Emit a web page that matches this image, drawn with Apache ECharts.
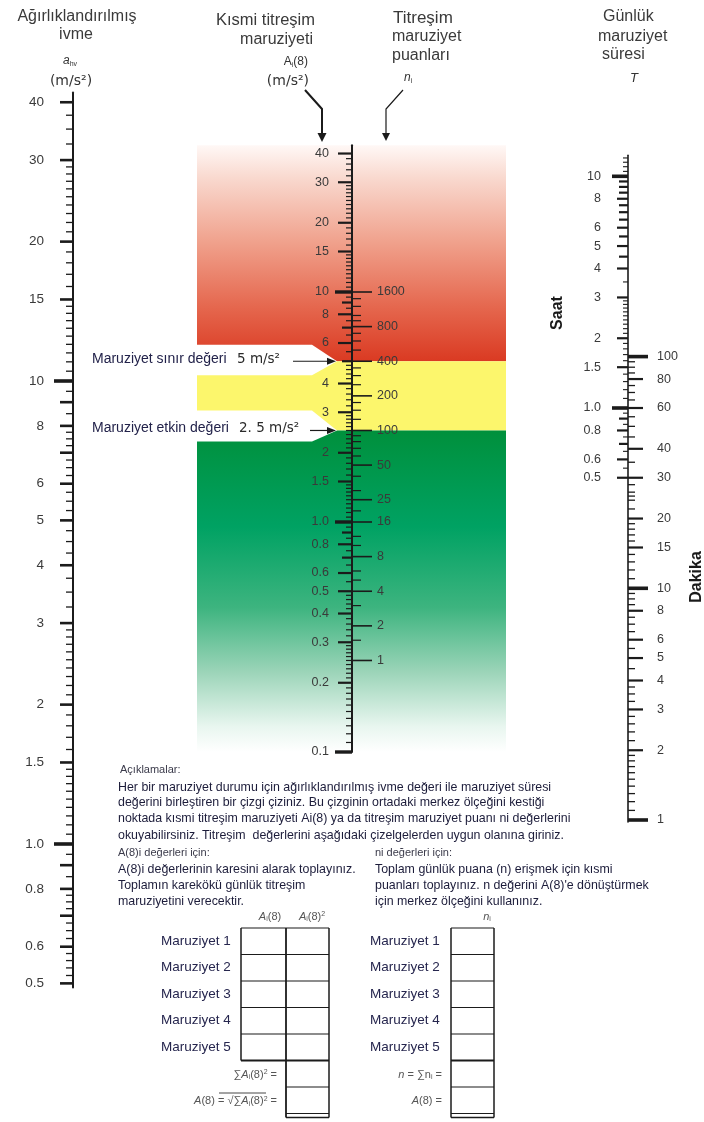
<!DOCTYPE html>
<html>
<head>
<meta charset="utf-8">
<script src="https://cdn.jsdelivr.net/npm/echarts@6/dist/echarts.min.js"></script>
<style>
  html, body { margin: 0; padding: 0; background: #fff; }
  #nomogram { width: 704px; height: 1122px; }
</style>
</head>
<body>
<div id="nomogram"></div>
<script>
// ---------- scale values ----------
// weighted acceleration a_hv (m/s²), left scale
const accelLabelValues = [40, 30, 20, 15, 10, 8, 6, 5, 4, 3, 2, 1.5, 1.0, 0.8, 0.6, 0.5];
const accelLabelText = ['40', '30', '20', '15', '10', '8', '6', '5', '4', '3', '2', '1.5', '1.0', '0.8', '0.6', '0.5'];
const accelLongTicks = [10, 1.0];
const accelMidTicks = [9, 7, 0.9, 0.7];
const accelMinorTicks = [37.5, 35, 32.5, 29, 28, 27, 26, 25, 24, 23, 22, 21, 19, 18, 17, 16,
  14.5, 14, 13.5, 13, 12.5, 12, 11.5, 11, 10.5, 9.5, 8.5, 7.75, 7.5, 7.25, 6.75, 6.5, 6.25,
  5.75, 5.5, 5.25, 4.75, 4.5, 4.25, 3.75, 3.5, 3.25, 2.9, 2.8, 2.7, 2.6, 2.5, 2.4, 2.3, 2.2, 2.1,
  1.9, 1.8, 1.7, 1.6, 1.45, 1.4, 1.35, 1.3, 1.25, 1.2, 1.15, 1.1, 1.05, 0.95, 0.85,
  0.775, 0.75, 0.725, 0.675, 0.65, 0.625, 0.58, 0.56, 0.54, 0.52];

// partial vibration exposure A_i(8) (m/s²), centre scale, left side
const a8LabelValues = [40, 30, 20, 15, 10, 8, 6, 4, 3, 2, 1.5, 1.0, 0.8, 0.6, 0.5, 0.4, 0.3, 0.2, 0.1];
const a8LabelText = ['40', '30', '20', '15', '10', '8', '6', '4', '3', '2', '1.5', '1.0', '0.8', '0.6', '0.5', '0.4', '0.3', '0.2', '0.1'];
const a8LongTicks = [10, 1.0, 0.1];
const a8MidTicks = [9, 7, 5, 0.9, 0.7];
const a8MinorTicks = [38, 36, 34, 32, 29, 28, 27, 26, 25, 24, 23, 22, 21, 19, 18, 17, 16,
  14.5, 14, 13.5, 13, 12.5, 12, 11.5, 11, 10.5, 9.5, 8.5, 7.5, 6.5, 5.5, 4.8, 4.6, 4.4, 4.2,
  3.8, 3.6, 3.4, 3.2, 2.9, 2.8, 2.7, 2.6, 2.5, 2.4, 2.3, 2.2, 2.1, 1.9, 1.8, 1.7, 1.6,
  1.45, 1.4, 1.35, 1.3, 1.25, 1.2, 1.15, 1.1, 1.05, 0.95, 0.85, 0.75, 0.65, 0.55,
  0.48, 0.46, 0.44, 0.42, 0.38, 0.36, 0.34, 0.32, 0.29, 0.28, 0.27, 0.26, 0.25, 0.24, 0.23, 0.22, 0.21,
  0.19, 0.18, 0.17, 0.16, 0.15, 0.14, 0.13, 0.12, 0.11];

// exposure points n_i, centre scale, right side
const pointLabelValues = [1600, 800, 400, 200, 100, 50, 25, 16, 8, 4, 2, 1];
const pointLabelText = ['1600', '800', '400', '200', '100', '50', '25', '16', '8', '4', '2', '1'];
const pointMinorTicks = [1400, 1200, 1000, 900, 700, 600, 500, 350, 300, 250, 175, 150, 125,
  90, 80, 70, 60, 40, 30, 20, 12, 10, 6, 5, 3, 1.5];

// daily exposure duration T, right scale: hours (left side) and minutes (right side)
const hourLabelValues = [10, 8, 6, 5, 4, 3, 2, 1.5, 1.0, 0.8, 0.6, 0.5];
const hourLabelText = ['10', '8', '6', '5', '4', '3', '2', '1.5', '1.0', '0.8', '0.6', '0.5'];
const hourLongTicks = [10, 1.0];
const hourMidTicks = [9.5, 9, 8.5, 7.5, 7, 6.5, 5.5, 4.5, 0.9, 0.7];
const hourMinorTicks = [12, 11.5, 11, 10.5, 3.5, 2.9, 2.8, 2.7, 2.6, 2.5, 2.4, 2.3, 2.2, 2.1,
  1.9, 1.8, 1.7, 1.6, 1.4, 1.3, 1.2, 1.1, 0.95, 0.85, 0.75, 0.65, 0.55];
const minuteLabelValues = [100, 80, 60, 40, 30, 20, 15, 10, 8, 6, 5, 4, 3, 2, 1];
const minuteLabelText = ['100', '80', '60', '40', '30', '20', '15', '10', '8', '6', '5', '4', '3', '2', '1'];
const minuteLongTicks = [100, 10, 1];
const minuteMinorTicks = [95, 90, 85, 75, 70, 65, 55, 50, 45, 35, 28, 26, 25, 24, 22, 19, 18, 17, 16,
  14, 13, 12, 11, 9.5, 9, 8.5, 7.5, 7, 6.5, 5.5, 4.5, 3.75, 3.5, 3.25, 2.8, 2.6, 2.4, 2.2,
  1.9, 1.8, 1.7, 1.6, 1.5, 1.4, 1.3, 1.2, 1.1];

// exposure limit and action values on the A(8) scale
const thresholdValues = [5, 2.5];
const thresholdNames = ['Maruziyet sınır değeri', 'Maruziyet etkin değeri'];
const thresholdText = ['5 m/s²', '2. 5 m/s²'];

const exposureRows = ['Maruziyet 1', 'Maruziyet 2', 'Maruziyet 3', 'Maruziyet 4', 'Maruziyet 5'];

// ---------- drawing helpers ----------
const FONT = '"Liberation Sans", Arial, Helvetica, sans-serif';
const WIDE = '"DejaVu Sans", "Liberation Sans", sans-serif';
const INK = '#1b1b1b';
const NUM = '#3a3a3a';

// points A(8) <-> n : n = 16 * A(8)^2
const pointsToA8 = n => Math.sqrt(n) / 4;

function scaleGrid(x, refVal, refY, pxPerDecade, min, max) {
  const top = refY - pxPerDecade * Math.log10(max / refVal);
  const bottom = refY + pxPerDecade * Math.log10(refVal / min);
  return { left: x, top: top, width: 20, height: bottom - top };
}

const scales = [
  { grid: scaleGrid(73, 10, 381, 463, 0.49, 42), min: 0.49, max: 42, lw: 2 },
  { grid: scaleGrid(352, 10, 292, 230, 0.1, 43.5), min: 0.1, max: 43.5, lw: 2 },
  { grid: scaleGrid(628, 60, 408, 231.7, 0.98, 740), min: 0.98, max: 740, lw: 1.6 }
];

// len > 0 draws to the left of the axis, len < 0 to the right
function tickSeries(axis, values, len, width, z) {
  return {
    type: 'custom', xAxisIndex: axis, yAxisIndex: axis, silent: true, clip: false, z: z || 6,
    data: values.map(v => [0, v]),
    renderItem(params, api) {
      const p = api.coord([0, api.value(1)]);
      return {
        type: 'line',
        shape: { x1: p[0] - len, y1: p[1], x2: p[0], y2: p[1] },
        style: { stroke: INK, lineWidth: width }
      };
    }
  };
}

function labelSeries(axis, values, texts, dx, align, size) {
  return {
    type: 'custom', xAxisIndex: axis, yAxisIndex: axis, silent: true, clip: false, z: 6,
    data: values.map(v => [0, v]),
    renderItem(params, api) {
      const p = api.coord([0, api.value(1)]);
      return {
        type: 'text', x: p[0] + dx, y: p[1],
        style: {
          text: texts[params.dataIndex], align: align, verticalAlign: 'middle',
          fontFamily: FONT, fontSize: size, fill: NUM
        }
      };
    }
  };
}

// coloured zones behind the centre scale: red above the limit, yellow between, green below
const bandSeries = {
  type: 'custom', xAxisIndex: 1, yAxisIndex: 1, silent: true, clip: false, z: 1,
  data: [[0, scales[1].max]],
  renderItem(params, api) {
    const top = api.coord([0, scales[1].max]);
    const ax = top[0];
    const yTop = top[1];
    const yLim = api.coord([0, thresholdValues[0]])[1];
    const yAct = api.coord([0, thresholdValues[1]])[1];
    const yBot = api.coord([0, scales[1].min])[1];
    const L = ax - 155, R = ax + 154;
    const notch = (y, up, down) => ({
      type: 'polygon',
      shape: { points: [[L, y - up], [ax - 40, y - up], [ax - 15, y], [ax - 40, y + down], [L, y + down]] },
      style: { fill: '#ffffff' }
    });
    return {
      type: 'group',
      children: [
        {
          type: 'rect', shape: { x: L, y: yTop, width: R - L, height: yLim - yTop },
          style: {
            fill: new echarts.graphic.LinearGradient(0, 0, 0, 1, [
              { offset: 0, color: '#fff8f6' },
              { offset: 0.15, color: '#f9d9cf' },
              { offset: 0.45, color: '#f0a18c' },
              { offset: 0.75, color: '#e5674e' },
              { offset: 1, color: '#da3a22' }
            ])
          }
        },
        {
          type: 'rect', shape: { x: L, y: yLim, width: R - L, height: yAct - yLim },
          style: { fill: '#fcf66c' }
        },
        {
          type: 'rect', shape: { x: L, y: yAct, width: R - L, height: yBot - yAct },
          style: {
            fill: new echarts.graphic.LinearGradient(0, 0, 0, 1, [
              { offset: 0, color: '#00903c' },
              { offset: 0.3, color: '#00a263' },
              { offset: 0.55, color: '#3db47f' },
              { offset: 0.75, color: '#9bd4b8' },
              { offset: 0.92, color: '#e8f6ef' },
              { offset: 1, color: '#ffffff' }
            ])
          }
        },
        notch(yLim, 16.5, 14),
        notch(yAct, 20, 11)
      ]
    };
  }
};

const valueTextX = [237, 239];
const arrowStartX = [293, 310];
const thresholdSeries = {
  type: 'custom', xAxisIndex: 1, yAxisIndex: 1, silent: true, clip: false, z: 7,
  data: thresholdValues.map(v => [0, v]),
  renderItem(params, api) {
    const i = params.dataIndex;
    const p = api.coord([0, api.value(1)]);
    const ax = p[0], y = p[1];
    return {
      type: 'group',
      children: [
        { type: 'text', x: ax - 260, y: y - 2,
          style: { text: thresholdNames[i], fontFamily: FONT, fontSize: 14, fill: '#22224a', verticalAlign: 'middle' } },
        { type: 'text', x: valueTextX[i], y: y - 2,
          style: { text: thresholdText[i], fontFamily: WIDE, fontSize: 13.5, fill: '#2a2a2a', verticalAlign: 'middle' } },
        { type: 'line', shape: { x1: arrowStartX[i], y1: y, x2: ax - 22, y2: y },
          style: { stroke: INK, lineWidth: 1.2 } },
        { type: 'polygon', shape: { points: [[ax - 16, y], [ax - 25, y - 3.5], [ax - 25, y + 3.5]] },
          style: { fill: INK } }
      ]
    };
  }
};

// ---------- static texts, arrows and tables ----------
function txt(x, y, text, extra) {
  return {
    type: 'text', x: x, y: y, silent: true,
    style: Object.assign({ text: text, fontFamily: FONT, fontSize: 12, fill: '#333', align: 'left', verticalAlign: 'middle' }, extra || {})
  };
}
function seg(x1, y1, x2, y2, w) {
  return { type: 'line', silent: true, shape: { x1, y1, x2, y2 }, style: { stroke: INK, lineWidth: w || 1 } };
}
const richSub = {
  n: { fontFamily: FONT, fontSize: 12, fill: '#333' },
  it: { fontFamily: FONT, fontSize: 12, fill: '#333', fontStyle: 'italic' },
  s: { fontFamily: FONT, fontSize: 7, fill: '#333', verticalAlign: 'bottom', padding: [6, 0, 0, 0] }
};

const HEAD = { fontSize: 16, fill: '#3a3a3a' };
const UNIT = { fontFamily: WIDE, fontSize: 14, fill: '#333' };
const elements = [
  // left scale heading
  txt(77, 17, 'Ağırlıklandırılmış', Object.assign({ align: 'center' }, HEAD)),
  txt(76, 35, 'ivme', Object.assign({ align: 'center' }, HEAD)),
  txt(70, 61, '{it|a}{s|hv}', { align: 'center', rich: richSub }),
  txt(71, 81, '(m/s²)', Object.assign({ align: 'center' }, UNIT)),
  // centre scale headings
  txt(315, 20, 'Kısmi titreşim', Object.assign({ align: 'right', fontSize: 16.5 }, { fill: HEAD.fill })),
  txt(313, 40, 'maruziyeti', Object.assign({ align: 'right' }, HEAD)),
  txt(308, 62, '{n|A}{s|i}{n|(8)}', { align: 'right', rich: richSub }),
  txt(309, 81, '(m/s²)', Object.assign({ align: 'right' }, UNIT)),
  txt(393, 18, 'Titreşim', Object.assign({}, HEAD, { fontSize: 17 })),
  txt(392, 37, 'maruziyet', HEAD),
  txt(392, 56, 'puanları', HEAD),
  txt(404, 78, '{it|n}{s|i}', { rich: richSub }),
  // right scale heading
  txt(603, 17, 'Günlük', HEAD),
  txt(598, 37, 'maruziyet', HEAD),
  txt(602, 55, 'süresi', HEAD),
  txt(630, 78, 'T', { fontStyle: 'italic', fontSize: 13, fill: '#333' }),
  // unit names beside the time scale
  { type: 'text', x: 558, y: 313, rotation: Math.PI / 2, silent: true,
    style: { text: 'Saat', fontFamily: FONT, fontSize: 16, fontWeight: 'bold', fill: '#1a1a1a', align: 'center', verticalAlign: 'middle' } },
  { type: 'text', x: 697, y: 577, rotation: Math.PI / 2, silent: true,
    style: { text: 'Dakika', fontFamily: FONT, fontSize: 16, fontWeight: 'bold', fill: '#1a1a1a', align: 'center', verticalAlign: 'middle' } },
  // arrows pointing at the centre scale
  { type: 'polyline', silent: true, shape: { points: [[305, 90], [322, 109], [322, 135]] }, style: { stroke: INK, lineWidth: 2, fill: null } },
  { type: 'polygon', silent: true, shape: { points: [[317.5, 133], [326.5, 133], [322, 142]] }, style: { fill: INK } },
  { type: 'polyline', silent: true, shape: { points: [[403, 90], [386, 109], [386, 135]] }, style: { stroke: INK, lineWidth: 1.2, fill: null } },
  { type: 'polygon', silent: true, shape: { points: [[382, 133], [390, 133], [386, 141]] }, style: { fill: INK } }
];

// explanation text: headings in a lighter style, body lines darker
const NOTE_HEAD = { fontSize: 11, fill: '#3a3a4a' };
const NOTE = { fontSize: 12.4, fill: '#1c1c3a' };
const noteHeads = [
  [120, 770, 'Açıklamalar:'],
  [118, 853, 'A(8)i değerleri için:'],
  [375, 853, 'ni değerleri için:']
];
const noteLines = [
  [118, 788, 'Her bir maruziyet durumu için ağırlıklandırılmış ivme değeri ile maruziyet süresi'],
  [118, 803, 'değerini birleştiren bir çizgi çiziniz. Bu çizginin ortadaki merkez ölçeğini kestiği'],
  [118, 819, 'noktada kısmi titreşim maruziyeti Ai(8) ya da titreşim maruziyet puanı ni değerlerini'],
  [118, 836, 'okuyabilirsiniz. Titreşim  değerlerini aşağıdaki çizelgelerden uygun olanına giriniz.'],
  [118, 870, 'A(8)i değerlerinin karesini alarak toplayınız.'],
  [118, 886, 'Toplamın karekökü günlük titreşim'],
  [118, 902, 'maruziyetini verecektir.'],
  [375, 870, 'Toplam günlük puana (n) erişmek için kısmi'],
  [375, 886, 'puanları toplayınız. n değerini A(8)\'e dönüştürmek'],
  [375, 902, 'için merkez ölçeğini kullanınız.']
];
noteHeads.forEach(l => elements.push(txt(l[0], l[1], l[2], NOTE_HEAD)));
noteLines.forEach(l => elements.push(txt(l[0], l[1], l[2], NOTE)));

// worksheet tables
const rowTop = 928, rowH = 26.5;
const rowY = k => rowTop + k * rowH;
const tableRich = {
  n: { fontFamily: FONT, fontSize: 11, fill: '#555' },
  it: { fontFamily: FONT, fontSize: 11, fill: '#555', fontStyle: 'italic' },
  s: { fontFamily: FONT, fontSize: 7, fill: '#555', verticalAlign: 'bottom', padding: [5, 0, 0, 0] },
  sp: { fontFamily: FONT, fontSize: 7, fill: '#555', verticalAlign: 'top', padding: [0, 0, 5, 0] }
};
const ROWLBL = { fontSize: 13.5, fill: '#26264e' };
exposureRows.forEach((name, k) => {
  elements.push(txt(161, rowY(k) + rowH / 2, name, ROWLBL));
  elements.push(txt(370, rowY(k) + rowH / 2, name, ROWLBL));
});
elements.push(txt(270, 917, '{it|A}{s|i}{n|(8)}', { align: 'center', rich: tableRich }));
elements.push(txt(312, 917, '{it|A}{s|i}{n|(8)}{sp|2}', { align: 'center', rich: tableRich }));
elements.push(txt(487, 917, '{it|n}{s|i}', { align: 'center', rich: tableRich }));
elements.push(txt(277, rowY(5) + rowH / 2 + 1, '{n|∑}{it|A}{s|i}{n|(8)}{sp|2}{n| =}', { align: 'right', rich: tableRich }));
elements.push(txt(277, rowY(6) + rowH / 2 + 1, '{it|A}{n|(8) = √∑}{it|A}{s|i}{n|(8)}{sp|2}{n| =}', { align: 'right', rich: tableRich }));
elements.push(seg(219, rowY(6) + 6, 266, rowY(6) + 6, 0.8));
elements.push(txt(442, rowY(5) + rowH / 2 + 1, '{it|n}{n| = ∑n}{s|i}{n| =}', { align: 'right', rich: tableRich }));
elements.push(txt(442, rowY(6) + rowH / 2 + 1, '{it|A}{n|(8) =}', { align: 'right', rich: tableRich }));

// left table: two columns for five rows, second column continues for the totals
for (let k = 0; k <= 5; k++) elements.push(seg(241, rowY(k), 329, rowY(k), k === 5 ? 2 : 1.2));
elements.push(seg(286, rowY(6), 329, rowY(6), 1.2));
elements.push(seg(286, rowY(7), 329, rowY(7), 1.2));
elements.push(seg(286, rowY(7) + 4, 329, rowY(7) + 4, 1.5));
elements.push(seg(241, rowY(0), 241, rowY(5), 1.5));
elements.push(seg(286, rowY(0), 286, rowY(7) + 4, 1.8));
elements.push(seg(329, rowY(0), 329, rowY(7) + 4, 1.5));
// right table: one column
for (let k = 0; k <= 7; k++) elements.push(seg(451, rowY(k), 494, rowY(k), k === 5 ? 2 : 1.2));
elements.push(seg(451, rowY(7) + 4, 494, rowY(7) + 4, 1.5));
elements.push(seg(451, rowY(0), 451, rowY(7) + 4, 1.5));
elements.push(seg(494, rowY(0), 494, rowY(7) + 4, 1.5));

// ---------- chart ----------
const chart = echarts.init(document.getElementById('nomogram'), null, { renderer: 'canvas' });

const toMinutes = h => h * 60;

const series = [
  bandSeries,
  thresholdSeries,
  // left scale
  tickSeries(0, accelLabelValues.filter(v => accelLongTicks.indexOf(v) < 0), 13, 2.6),
  tickSeries(0, accelLongTicks, 19, 3.6),
  tickSeries(0, accelMidTicks, 13, 2.6),
  tickSeries(0, accelMinorTicks, 7, 1.3),
  labelSeries(0, accelLabelValues, accelLabelText, -29, 'right', 13.5),
  // centre scale, A(8) side
  tickSeries(1, a8LabelValues.filter(v => a8LongTicks.indexOf(v) < 0), 14, 2.2),
  tickSeries(1, a8LongTicks, 17, 3.4),
  tickSeries(1, a8MidTicks, 10, 2.2),
  tickSeries(1, a8MinorTicks, 6, 1.2),
  labelSeries(1, a8LabelValues, a8LabelText, -23, 'right', 12.5),
  // centre scale, points side
  tickSeries(1, pointLabelValues.map(pointsToA8), -20, 1.6),
  tickSeries(1, pointMinorTicks.map(pointsToA8), -9, 1.2),
  labelSeries(1, pointLabelValues.map(pointsToA8), pointLabelText, 25, 'left', 12.5),
  // time scale, hours side
  tickSeries(2, hourLabelValues.filter(v => hourLongTicks.indexOf(v) < 0).map(toMinutes), 11, 2.2),
  tickSeries(2, hourLongTicks.map(toMinutes), 16, 3.6),
  tickSeries(2, hourMidTicks.map(toMinutes), 9, 2.2),
  tickSeries(2, hourMinorTicks.map(toMinutes), 5, 1.1),
  labelSeries(2, hourLabelValues.map(toMinutes), hourLabelText, -27, 'right', 12.5),
  // time scale, minutes side
  tickSeries(2, minuteLabelValues.filter(v => minuteLongTicks.indexOf(v) < 0), -15, 2.2),
  tickSeries(2, minuteLongTicks, -20, 3.6),
  tickSeries(2, minuteMinorTicks, -7, 1.3),
  labelSeries(2, minuteLabelValues, minuteLabelText, 29, 'left', 12.5)
];

chart.setOption({
  animation: false,
  backgroundColor: '#ffffff',
  grid: scales.map(s => Object.assign({ containLabel: false }, s.grid)),
  xAxis: scales.map((s, i) => ({ type: 'value', gridIndex: i, min: 0, max: 1, show: false })),
  yAxis: scales.map((s, i) => ({
    type: 'log', gridIndex: i, logBase: 10, min: s.min, max: s.max, z: 5,
    axisLine: { show: true, lineStyle: { color: INK, width: s.lw } },
    axisTick: { show: false }, axisLabel: { show: false }, splitLine: { show: false }
  })),
  series: series,
  graphic: { elements: elements }
});
</script>
</body>
</html>
